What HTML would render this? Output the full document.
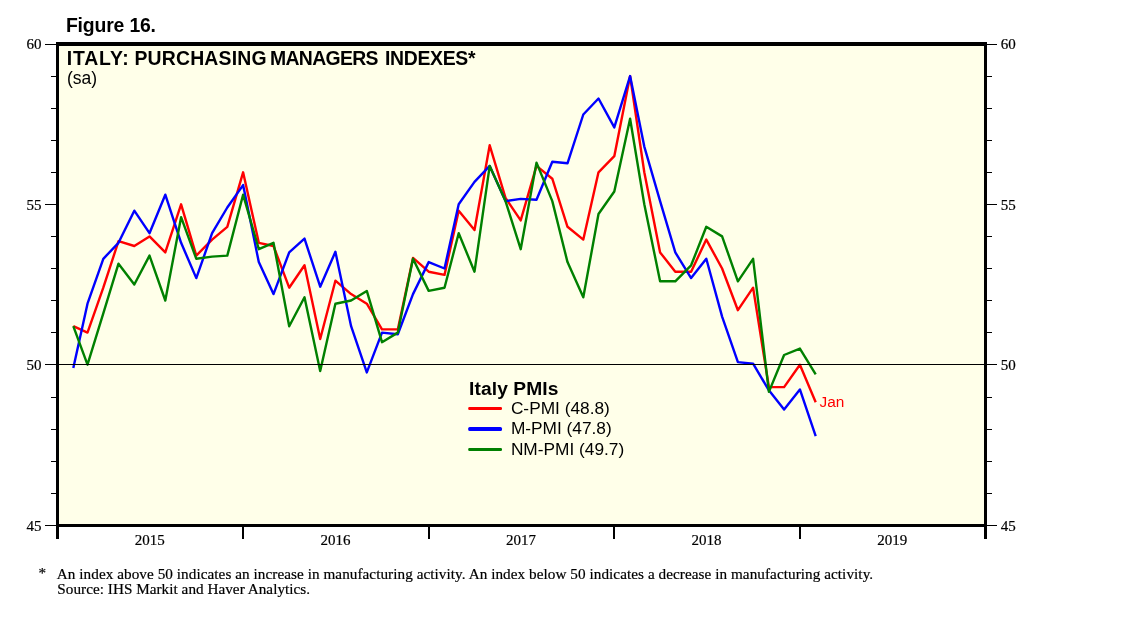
<!DOCTYPE html>
<html><head><meta charset="utf-8"><title>Figure 16. Italy: Purchasing Managers Indexes</title>
<style>
html,body{margin:0;padding:0;background:#fff;}
svg{display:block;}
.s{font-family:"Liberation Sans",Arial,sans-serif;}
.t{font-family:"Liberation Serif","Times New Roman",serif;stroke:#000;stroke-width:0.2px;}
</style></head><body>
<svg width="1138" height="626" viewBox="0 0 1138 626">
<rect x="0" y="0" width="1138" height="626" fill="#ffffff"/>
<rect x="57.5" y="44.5" width="928" height="481" fill="#ffffe9"/>

<polyline points="73.3,326.2 87.5,332.6 103.3,287.7 118.5,241.2 134.3,246.0 149.5,236.4 165.3,252.4 181.1,204.3 196.3,255.6 212.1,239.6 227.3,226.8 243.1,172.3 258.8,242.8 273.5,246.0 289.2,287.7 304.5,265.3 320.2,339.0 335.4,280.7 351.1,294.1 366.8,303.7 382.0,329.4 397.8,329.4 413.0,257.9 428.7,271.7 444.5,274.9 458.7,210.7 474.5,230.0 489.7,145.3 505.5,197.9 520.7,220.4 536.5,165.9 552.3,178.7 567.5,226.8 583.3,239.6 598.5,172.3 614.3,156.2 630.1,76.1 644.3,172.3 660.1,252.4 675.3,271.7 691.1,271.7 706.3,239.6 722.1,268.5 737.9,310.2 753.1,287.7 768.9,387.1 784.1,387.1 799.9,364.7 815.7,402.2" fill="none" stroke="#ff0000" stroke-width="2.4" stroke-linejoin="round" stroke-linecap="butt"/>
<polyline points="73.3,367.9 87.5,303.7 103.3,258.8 118.5,242.8 134.3,210.7 149.5,233.2 165.3,194.7 181.1,242.8 196.3,278.1 212.1,233.2 227.3,207.5 243.1,185.1 258.8,262.1 273.5,294.1 289.2,252.4 304.5,238.6 320.2,286.7 335.4,251.8 351.1,326.2 366.8,372.4 382.0,332.6 397.8,334.2 413.0,294.1 428.7,262.1 444.5,268.5 458.7,204.3 474.5,181.9 489.7,165.9 505.5,201.1 520.7,198.9 536.5,199.8 552.3,161.7 567.5,163.3 583.3,114.5 598.5,98.5 614.3,127.4 630.1,76.1 644.3,146.6 660.1,201.1 675.3,252.4 691.1,278.1 706.3,258.8 722.1,316.6 737.9,362.1 753.1,363.7 768.9,390.3 784.1,409.6 799.9,389.4 815.7,436.2" fill="none" stroke="#0000ff" stroke-width="2.4" stroke-linejoin="round" stroke-linecap="butt"/>
<polyline points="73.3,326.2 87.5,364.7 103.3,313.4 118.5,263.7 134.3,284.5 149.5,255.6 165.3,300.5 181.1,217.2 196.3,258.8 212.1,256.6 227.3,255.6 243.1,194.7 258.8,249.2 273.5,242.8 289.2,326.2 304.5,297.3 320.2,371.1 335.4,303.7 351.1,300.5 366.8,290.9 382.0,342.2 397.8,332.6 413.0,258.8 428.7,290.9 444.5,287.7 458.7,233.2 474.5,271.7 489.7,165.9 505.5,201.1 520.7,249.2 536.5,162.6 552.3,201.1 567.5,262.1 583.3,297.3 598.5,214.0 614.3,191.5 630.1,118.7 644.3,204.3 660.1,281.3 675.3,281.3 691.1,265.3 706.3,226.8 722.1,236.4 737.9,281.3 753.1,258.8 768.9,391.9 784.1,355.0 799.9,348.6 815.7,374.3" fill="none" stroke="#008000" stroke-width="2.4" stroke-linejoin="round" stroke-linecap="butt"/>
<rect x="59" y="364" width="925" height="1" fill="#000"/>
<path d="M56 42H987V527H56Z M59 46V524H984V46Z" fill="#000" fill-rule="evenodd"/>
<rect x="45" y="44" width="11" height="1" fill="#000"/><rect x="987" y="44" width="10" height="1" fill="#000"/>
<rect x="51" y="76" width="5" height="1" fill="#000"/><rect x="987" y="76" width="5" height="1" fill="#000"/>
<rect x="51" y="108" width="5" height="1" fill="#000"/><rect x="987" y="108" width="5" height="1" fill="#000"/>
<rect x="51" y="140" width="5" height="1" fill="#000"/><rect x="987" y="140" width="5" height="1" fill="#000"/>
<rect x="51" y="172" width="5" height="1" fill="#000"/><rect x="987" y="172" width="5" height="1" fill="#000"/>
<rect x="45" y="204" width="11" height="1" fill="#000"/><rect x="987" y="204" width="10" height="1" fill="#000"/>
<rect x="51" y="236" width="5" height="1" fill="#000"/><rect x="987" y="236" width="5" height="1" fill="#000"/>
<rect x="51" y="268" width="5" height="1" fill="#000"/><rect x="987" y="268" width="5" height="1" fill="#000"/>
<rect x="51" y="300" width="5" height="1" fill="#000"/><rect x="987" y="300" width="5" height="1" fill="#000"/>
<rect x="51" y="332" width="5" height="1" fill="#000"/><rect x="987" y="332" width="5" height="1" fill="#000"/>
<rect x="45" y="364" width="11" height="1" fill="#000"/><rect x="987" y="364" width="10" height="1" fill="#000"/>
<rect x="51" y="397" width="5" height="1" fill="#000"/><rect x="987" y="397" width="5" height="1" fill="#000"/>
<rect x="51" y="429" width="5" height="1" fill="#000"/><rect x="987" y="429" width="5" height="1" fill="#000"/>
<rect x="51" y="461" width="5" height="1" fill="#000"/><rect x="987" y="461" width="5" height="1" fill="#000"/>
<rect x="51" y="493" width="5" height="1" fill="#000"/><rect x="987" y="493" width="5" height="1" fill="#000"/>
<rect x="45" y="525" width="11" height="1" fill="#000"/><rect x="987" y="525" width="10" height="1" fill="#000"/>
<rect x="56" y="527" width="3" height="12" fill="#000"/>
<rect x="242" y="527" width="2" height="12" fill="#000"/>
<rect x="428" y="527" width="2" height="12" fill="#000"/>
<rect x="613" y="527" width="2" height="12" fill="#000"/>
<rect x="799" y="527" width="2" height="12" fill="#000"/>
<rect x="984" y="527" width="3" height="12" fill="#000"/>
<text class="t" x="41.5" y="48.5" font-size="15" text-anchor="end">60</text>
<text class="t" x="1000.8" y="48.5" font-size="15">60</text>
<text class="t" x="41.5" y="209.8" font-size="15" text-anchor="end">55</text>
<text class="t" x="1000.8" y="209.8" font-size="15">55</text>
<text class="t" x="41.5" y="370.2" font-size="15" text-anchor="end">50</text>
<text class="t" x="1000.8" y="370.2" font-size="15">50</text>
<text class="t" x="41.5" y="530.5" font-size="15" text-anchor="end">45</text>
<text class="t" x="1000.8" y="530.5" font-size="15">45</text>
<text class="t" x="149.8" y="545" font-size="15" text-anchor="middle">2015</text>
<text class="t" x="335.4" y="545" font-size="15" text-anchor="middle">2016</text>
<text class="t" x="521.0" y="545" font-size="15" text-anchor="middle">2017</text>
<text class="t" x="706.6" y="545" font-size="15" text-anchor="middle">2018</text>
<text class="t" x="892.2" y="545" font-size="15" text-anchor="middle">2019</text>
<text class="s" y="31.5" font-size="19.4" font-weight="bold"><tspan x="65.9" textLength="58.5" lengthAdjust="spacing">Figure</tspan> <tspan x="129.4" textLength="26.5" lengthAdjust="spacing">16.</tspan></text>
<text class="s" y="64.7" font-size="19.4" font-weight="bold"><tspan x="66.7" textLength="62" lengthAdjust="spacing">ITALY:</tspan> <tspan x="134.5" textLength="132" lengthAdjust="spacing">PURCHASING</tspan> <tspan x="270" textLength="108.5" lengthAdjust="spacing">MANAGERS</tspan> <tspan x="385" textLength="90.5" lengthAdjust="spacing">INDEXES*</tspan></text>
<text class="s" x="67" y="83.9" font-size="17.5">(sa)</text>
<text class="s" x="469.1" y="394.6" font-size="19.2" font-weight="bold" textLength="89.3" lengthAdjust="spacing">Italy PMIs</text>
<rect x="468.2" y="407" width="33.8" height="3" rx="1.2" fill="#ff0000"/>
<rect x="468.2" y="427" width="33.8" height="4" rx="1.5" fill="#0000ff"/>
<rect x="468.2" y="448" width="33.8" height="3" rx="1.2" fill="#008000"/>
<text class="s" x="510.9" y="414.4" font-size="17.3">C-PMI (48.8)</text>
<text class="s" x="510.9" y="434.4" font-size="17.3">M-PMI (47.8)</text>
<text class="s" x="510.9" y="454.6" font-size="17.3">NM-PMI (49.7)</text>
<text class="s" x="819.6" y="406.8" font-size="15.4" fill="#ff0000">Jan</text>
<text class="t" x="38.6" y="577.8" font-size="15.2">*</text>
<text class="t" x="56.8" y="578.8" font-size="15.2" textLength="816.3" lengthAdjust="spacing">An index above 50 indicates an increase in manufacturing activity. An index below 50 indicates a decrease in manufacturing activity.</text>
<text class="t" x="57.3" y="593.8" font-size="15.2" textLength="252.8" lengthAdjust="spacing">Source: IHS Markit and Haver Analytics.</text>
</svg></body></html>
